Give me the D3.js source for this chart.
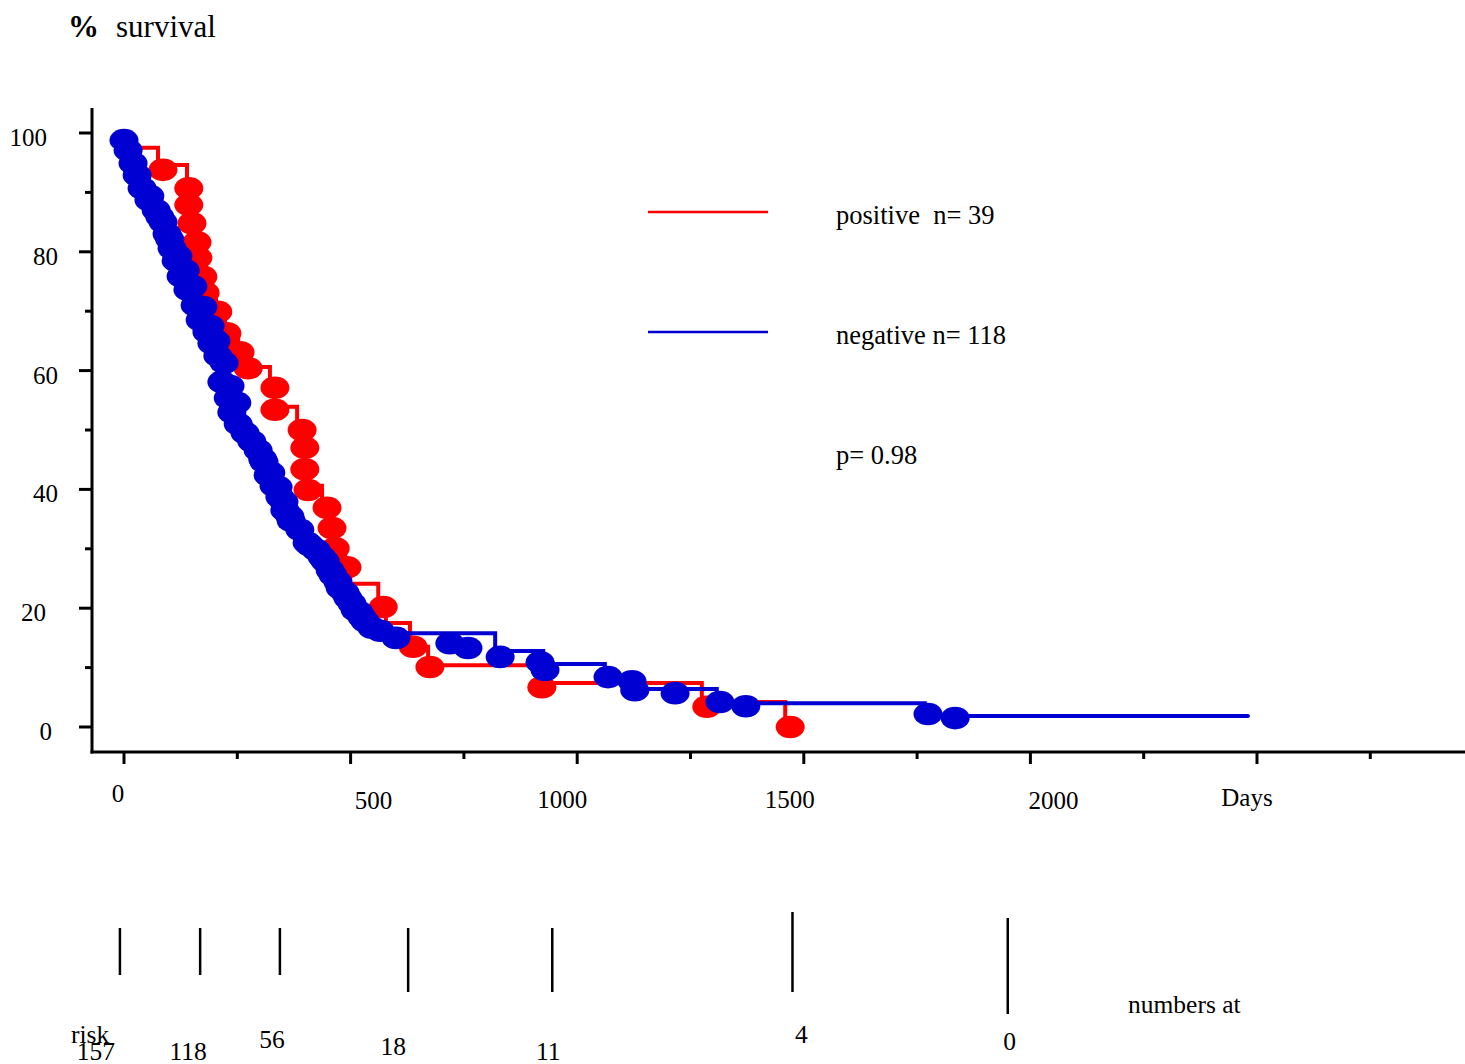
<!DOCTYPE html>
<html>
<head>
<meta charset="utf-8">
<script src="https://d3js.org/d3.v7.min.js"></script>
<style>
  body { margin: 0; background: #fff; }
  svg text { font-family: "Liberation Serif", "Times New Roman", serif; fill: #000; }
</style>
</head>
<body>
<script>
/*
  Values (days, % survival)
*/
var posStepDays = [0, 4, 75, 139, 143, 148, 157, 163, 172, 179, 203, 223, 252, 269, 322, 331, 382, 395, 399, 404, 437, 452, 463, 488, 499, 561, 578, 631, 671, 922, 1275, 1459];
var posStepSurv = [100, 97.5, 94.6, 90.7, 87.9, 84.8, 81.6, 79.0, 75.8, 73.1, 69.9, 66.3, 63.1, 60.6, 57.1, 53.9, 50.0, 47.0, 43.4, 40.6, 36.9, 33.5, 30.1, 27.1, 24.1, 20.2, 17.5, 13.5, 10.4, 7.4, 4.2, 0];

var posDotDays = [86, 143, 143, 150, 161, 163, 174, 179, 207, 227, 256, 274, 333, 333, 393, 399, 399, 406, 448, 459, 466, 492, 572, 638, 675, 922, 1286, 1470];
var posDotSurv = [93.8, 90.7, 87.9, 84.8, 81.6, 79.0, 75.8, 73.1, 69.9, 66.3, 63.1, 60.4, 57.1, 53.4, 50.0, 47.0, 43.4, 39.9, 36.9, 33.5, 30.1, 26.9, 20.2, 13.5, 10.1, 6.7, 3.4, 0];

var negStepDays = [0, 9, 20, 29, 40, 55, 71, 86, 95, 106, 115, 126, 141, 157, 168, 183, 194, 207, 216, 230, 238, 252, 267, 282, 296, 309, 318, 331, 344, 355, 369, 388, 404, 424, 444, 461, 477, 494, 510, 525, 547, 565, 819, 925, 1061, 1140, 1308, 1767, 2480];
var negStepSurv = [100, 97.1, 94.9, 92.9, 90.7, 88.7, 87.0, 85.0, 83.0, 80.6, 78.5, 75.9, 73.6, 71.0, 68.5, 66.5, 64.6, 62.5, 58.1, 55.4, 53.0, 51.0, 49.5, 48.1, 46.6, 44.6, 42.4, 40.6, 38.7, 36.5, 34.7, 33.2, 31.0, 29.8, 27.9, 25.6, 23.4, 21.7, 19.7, 18.5, 16.7, 15.8, 12.8, 10.6, 8.5, 6.4, 4.0, 1.85, 1.85];

var negDotDays = [0, 9, 20, 29, 40, 55, 71, 86, 95, 106, 115, 126, 141, 157, 168, 183, 194, 207, 216, 230, 238, 252, 267, 282, 296, 309, 318, 331, 344, 355, 369, 388, 404, 424, 444, 461, 477, 494, 510, 525, 547, 600, 719, 759, 830, 918, 929, 1068, 1121, 1127, 1216, 1315, 1372, 1774, 1834,
                  57, 79, 101, 119, 135, 152, 174, 190, 203, 221, 234, 249, 306, 324, 340, 353, 366, 410, 437, 455, 472, 488, 503, 519, 532, 565];
var negDotSurv = [98.8, 97.1, 94.9, 92.9, 90.7, 88.7, 87.0, 85.0, 83.0, 80.6, 78.5, 75.9, 73.6, 71.0, 68.5, 66.5, 64.6, 62.5, 58.1, 55.4, 53.0, 51.0, 49.5, 48.1, 46.6, 44.6, 42.4, 40.6, 38.7, 36.5, 34.7, 33.2, 31.0, 29.8, 27.9, 25.6, 23.4, 21.7, 19.7, 18.5, 16.7, 15.0, 14.1, 13.3, 11.8, 10.9, 9.6, 8.4, 7.7, 6.2, 5.7, 4.2, 3.5, 2.2, 1.5,
                  89.4, 85.9, 82.1, 79.3, 76.9, 74.2, 70.7, 67.5, 65.0, 61.3, 57.4, 54.6, 45.1, 42.8, 40.4, 37.9, 35.5, 30.6, 28.6, 26.4, 24.4, 22.6, 20.8, 19.3, 17.8, 16.2];

var yTicks = [0, 20, 40, 60, 80, 100];
var yMinorTicks = [10, 30, 50, 70, 90];
var xTicks = [0, 500, 1000, 1500, 2000, 2500];
var xMinorTicks = [250, 750, 1250, 1750, 2250, 2750];
var xTickLabels = ["0", "500", "1000", "1500", "2000", "Days"];

var legendNames = ["positive  n= 39", "negative n= 118"];
var pValueText = "p= 0.98";

var riskDays = [-9, 168, 344, 627, 945, 1475, 1950];
var riskCounts = [157, 118, 56, 18, 11, 4, 0];

/*
  Layout
*/
var width = 1465, height = 1064;
var red = "#ff0000", blue = "#0000d2";

var x = d3.scaleLinear().domain([0, 2500]).range([124, 1257]);
var y = d3.scaleLinear().domain([0, 100]).range([727, 133]);

var svg = d3.select("body").append("svg")
  .attr("width", width)
  .attr("height", height);

/* title */
svg.append("text").attr("x", 68).attr("y", 37)
  .style("font-size", "31px").style("font-weight", "bold").text("%");
svg.append("text").attr("x", 116).attr("y", 37)
  .style("font-size", "31px").text("survival");

/* axes */
var axes = svg.append("g").attr("stroke", "#000").attr("stroke-width", 3);
axes.append("line").attr("x1", 92).attr("x2", 92).attr("y1", 108).attr("y2", 753.5);
axes.append("line").attr("x1", 90.5).attr("x2", width).attr("y1", 752).attr("y2", 752);

axes.selectAll(".ytick").data(yTicks).enter().append("line")
  .attr("x1", 79).attr("x2", 92)
  .attr("y1", function (d) { return y(d); })
  .attr("y2", function (d) { return y(d); });
axes.selectAll(".yminor").data(yMinorTicks).enter().append("line")
  .attr("x1", 85).attr("x2", 92)
  .attr("y1", function (d) { return y(d); })
  .attr("y2", function (d) { return y(d); });
axes.selectAll(".xtick").data(xTicks).enter().append("line")
  .attr("x1", function (d) { return x(d); })
  .attr("x2", function (d) { return x(d); })
  .attr("y1", 752).attr("y2", 764);
axes.selectAll(".xminor").data(xMinorTicks).enter().append("line")
  .attr("x1", function (d) { return x(d); })
  .attr("x2", function (d) { return x(d); })
  .attr("y1", 752).attr("y2", 759);

/* tick labels sit a little off their ticks in the original */
var yLabelShift = {100: -11, 80: 0, 60: 0, 40: 0, 20: -12, 0: -6};
svg.selectAll(".ylab").data(yTicks).enter().append("text")
  .attr("x", function (d) { return 58 + yLabelShift[d]; })
  .attr("y", function (d) { return y(d) + 13; })
  .attr("text-anchor", "end")
  .style("font-size", "25px")
  .text(function (d) { return d; });

var xLabelShift = [-6, 23, -15, -14, 23, -10];
var xLabelBase = [802, 809, 808, 808, 809, 806];
svg.selectAll(".xlab").data(xTicks).enter().append("text")
  .attr("x", function (d, i) { return x(d) + xLabelShift[i]; })
  .attr("y", function (d, i) { return xLabelBase[i]; })
  .attr("text-anchor", "middle")
  .style("font-size", "25px")
  .text(function (d, i) { return xTickLabels[i]; });

/* survival curves */
var step = d3.line()
  .x(function (d) { return x(d[0]); })
  .y(function (d) { return y(d[1]); })
  .curve(d3.curveStepAfter);

function drawGroup(days, surv, dotDays, dotSurv, colour) {
  svg.append("path")
    .datum(d3.zip(days, surv))
    .attr("d", step)
    .attr("fill", "none")
    .attr("stroke", colour)
    .attr("stroke-width", 4)
    .attr("stroke-linecap", "round");
  svg.append("g").selectAll("ellipse")
    .data(d3.zip(dotDays, dotSurv))
    .enter().append("ellipse")
      .attr("cx", function (d) { return x(d[0]); })
      .attr("cy", function (d) { return y(d[1]); })
      .attr("rx", 14.5)
      .attr("ry", 11.3)
      .attr("fill", colour);
}

drawGroup(posStepDays, posStepSurv, posDotDays, posDotSurv, red);
drawGroup(negStepDays, negStepSurv, negDotDays, negDotSurv, blue);

/* legend */
[red, blue].forEach(function (c, i) {
  svg.append("line")
    .attr("x1", 648).attr("x2", 768)
    .attr("y1", 212 + i * 120).attr("y2", 212 + i * 120)
    .attr("stroke", c).attr("stroke-width", 2.5);
  svg.append("text")
    .attr("x", 836).attr("y", 224 + i * 120)
    .style("font-size", "26.5px").style("white-space", "pre")
    .attr("xml:space", "preserve")
    .text(legendNames[i]);
});
svg.append("text").attr("x", 836).attr("y", 464)
  .style("font-size", "26.5px").text(pValueText);

/* numbers at risk */
var riskTop = [928, 928, 928, 928, 928, 912, 918];
var riskBottom = [975, 975, 975, 992, 992, 992, 1014];
var riskLabelShift = [-24, -12, -8, -15, -4, 9, 2];
var riskLabelBase = [1060, 1060, 1048, 1055, 1060, 1043, 1050];

svg.selectAll(".riskline").data(riskDays).enter().append("line")
  .attr("x1", function (d) { return x(d); })
  .attr("x2", function (d) { return x(d); })
  .attr("y1", function (d, i) { return riskTop[i]; })
  .attr("y2", function (d, i) { return riskBottom[i]; })
  .attr("stroke", "#000").attr("stroke-width", 2.5);

svg.selectAll(".risklab").data(riskCounts).enter().append("text")
  .attr("x", function (d, i) { return x(riskDays[i]) + riskLabelShift[i]; })
  .attr("y", function (d, i) { return riskLabelBase[i]; })
  .attr("text-anchor", "middle")
  .style("font-size", "25.5px")
  .text(function (d) { return d; });

svg.append("text").attr("x", 71).attr("y", 1043)
  .style("font-size", "25.5px").text("risk");
svg.append("text").attr("x", 1128).attr("y", 1013)
  .style("font-size", "25.5px").text("numbers at");
</script>
</body>
</html>
